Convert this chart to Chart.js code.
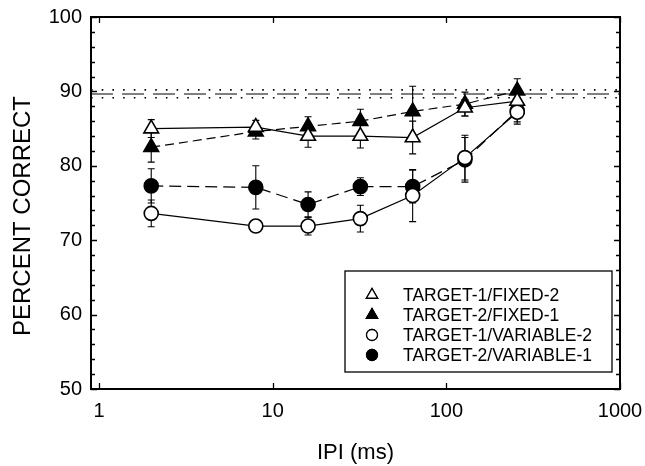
<!DOCTYPE html>
<html>
<head>
<meta charset="utf-8">
<script src="https://cdn.jsdelivr.net/npm/chart.js@4.4.1/dist/chart.umd.min.js"></script>
<style>
  html, body { margin: 0; padding: 0; background: #fff; }
  canvas { display: block; }
</style>
</head>
<body>
<canvas id="graf" width="645" height="466"></canvas>
<script>
const FONT = '"Liberation Sans", Arial, Helvetica, sans-serif';

// IPI values (ms) and tick labels
const ipi = [2, 8, 16, 32, 64, 128, 256];
const xTicks = [1, 10, 100, 1000];
const yTicks = [50, 60, 70, 80, 90, 100];

// series (percent correct) with error bars
const labels = ['TARGET-1/FIXED-2', 'TARGET-2/FIXED-1', 'TARGET-1/VARIABLE-2', 'TARGET-2/VARIABLE-1'];
const t1f2 = [85.0, 85.2, 84.0, 84.0, 83.8, 87.8, 88.7];
const t1f2Err = [1.2, 0.9, 1.5, 1.6, 2.2, 1.1, 1.0];
const t2f1 = [82.5, 84.6, 85.3, 86.0, 87.3, 88.3, 90.1];
const t2f1Err = [2.0, 1.0, 1.3, 1.6, 3.4, 1.6, 1.6];
const t1v2 = [73.6, 71.9, 71.9, 72.9, 76.0, 81.1, 87.2];
const t1v2Err = [1.8, 0.8, 1.2, 1.8, 3.5, 3.0, 1.6];
const t2v1 = [77.3, 77.1, 74.8, 77.2, 77.2, 80.8, 87.4];
const t2v1Err = [2.3, 2.9, 1.7, 1.2, 2.2, 3.0, 1.5];

// horizontal reference (mean and band)
const refMean = 89.65;
const refHigh = 90.2;
const refLow = 89.15;
const refRange = [0.9, 1000];

const pts = vals => ipi.map((x, i) => ({ x: x, y: vals[i] }));
const flat = v => refRange.map(x => ({ x: x, y: v }));

const serie = (label, vals, errs, style, filled, dash) => ({
  label: label,
  data: pts(vals),
  errors: errs,
  borderColor: '#000',
  borderWidth: 1.2,
  borderDash: dash,
  backgroundColor: filled ? '#000' : '#fff',
  pointStyle: style,
  pointRadius: style === 'triangle' ? 8.5 : 7,
  pointBorderWidth: 1.6,
  pointBorderColor: '#000',
  pointBackgroundColor: filled ? '#000' : '#fff',
  tension: 0
});

const refLine = (v, dash, w) => ({
  data: flat(v),
  borderColor: '#000',
  borderWidth: w,
  borderDash: dash,
  pointRadius: 0,
  ref: true
});

// error bars drawn under the markers
const barras = {
  id: 'barras',
  beforeDatasetsDraw(chart) {
    const ctx = chart.ctx;
    const xs = chart.scales.x, ys = chart.scales.y;
    ctx.save();
    ctx.strokeStyle = '#000';
    ctx.lineWidth = 1.1;
    chart.data.datasets.forEach(ds => {
      if (!ds.errors) return;
      ds.data.forEach((p, i) => {
        const e = ds.errors[i];
        const px = xs.getPixelForValue(p.x);
        const top = ys.getPixelForValue(p.y + e);
        const bot = ys.getPixelForValue(p.y - e);
        ctx.beginPath();
        ctx.moveTo(px, top); ctx.lineTo(px, bot);
        ctx.moveTo(px - 3.5, top); ctx.lineTo(px + 3.5, top);
        ctx.moveTo(px - 3.5, bot); ctx.lineTo(px + 3.5, bot);
        ctx.stroke();
      });
    });
    ctx.restore();
  }
};

// frame, inward ticks, legend box, y title
const marco = {
  id: 'marco',
  afterDraw(chart) {
    const ctx = chart.ctx;
    const a = chart.chartArea;
    const xs = chart.scales.x, ys = chart.scales.y;
    ctx.save();
    ctx.strokeStyle = '#000';
    ctx.lineWidth = 1.3;
    ctx.beginPath();
    for (let v = 50; v <= 100; v += 2) {
      const py = Math.round(ys.getPixelForValue(v)) + 0.5;
      const len = v % 10 === 0 ? 6 : 4;
      ctx.moveTo(a.left, py); ctx.lineTo(a.left + len, py);
      ctx.moveTo(a.right, py); ctx.lineTo(a.right - len, py);
    }
    xTicks.forEach(v => {
      const px = Math.round(xs.getPixelForValue(v)) + 0.5;
      ctx.moveTo(px, a.bottom); ctx.lineTo(px, a.bottom - 6);
      ctx.moveTo(px, a.top); ctx.lineTo(px, a.top + 6);
    });
    ctx.stroke();

    ctx.lineWidth = 2;
    ctx.strokeRect(a.left, a.top, a.right - a.left, a.bottom - a.top);

    // legend
    const bx = 345, by = 271, bw = 267, bh = 101;
    ctx.fillStyle = '#fff';
    ctx.fillRect(bx, by, bw, bh);
    ctx.lineWidth = 1.3;
    ctx.strokeRect(bx, by, bw, bh);
    ctx.font = '17.5px ' + FONT;
    ctx.textBaseline = 'middle';
    ctx.textAlign = 'left';
    chart.data.datasets.forEach((ds, i) => {
      if (ds.ref) return;
      const cy = by + 24 + i * 20;
      Chart.helpers.drawPoint(ctx, {
        pointStyle: ds.pointStyle,
        radius: ds.pointStyle === 'triangle' ? 6.5 : 5.5,
        borderWidth: 1.3,
        rotation: 0
      }, 372, cy);
      ctx.fillStyle = ds.pointBackgroundColor;
      ctx.strokeStyle = '#000';
      ctx.fill();
      ctx.stroke();
      ctx.fillStyle = '#000';
      ctx.fillText(ds.label, 403, cy + 1);
    });

    // y title
    ctx.translate(23, 216);
    ctx.rotate(-Math.PI / 2);
    ctx.textAlign = 'center';
    ctx.font = '24px ' + FONT;
    ctx.fillStyle = '#000';
    ctx.fillText('PERCENT CORRECT', 0, 0);
    ctx.restore();
  }
};

new Chart(document.getElementById('graf'), {
  type: 'line',
  data: {
    datasets: [
      serie(labels[0], t1f2, t1f2Err, 'triangle', false, []),
      serie(labels[1], t2f1, t2f1Err, 'triangle', true, [9, 5]),
      serie(labels[2], t1v2, t1v2Err, 'circle', false, []),
      serie(labels[3], t2v1, t2v1Err, 'circle', true, [12, 6]),
      refLine(refMean, [22, 9], 1),
      refLine(refHigh, [1.6, 9.1], 1.6),
      refLine(refLow, [1.6, 9.1], 1.6)
    ]
  },
  options: {
    responsive: false,
    animation: false,
    devicePixelRatio: 1,
    layout: { padding: { top: 17, right: 25, left: 0, bottom: 0 } },
    plugins: {
      legend: { display: false },
      tooltip: { enabled: false }
    },
    scales: {
      x: {
        type: 'logarithmic',
        min: 0.9,
        max: 1000,
        afterBuildTicks: s => { s.ticks = xTicks.map(v => ({ value: v })); },
        afterFit: s => { s.height = 77; s.paddingLeft = 0; s.paddingRight = 0; },
        ticks: {
          color: '#000',
          font: { family: FONT, size: 20 },
          padding: 10,
          autoSkip: false,
          maxRotation: 0,
          callback: v => String(v)
        },
        grid: { display: false, drawTicks: false },
        border: { display: false },
        title: {
          display: true,
          text: 'IPI (ms)',
          color: '#000',
          font: { family: FONT, size: 22 },
          padding: { top: 6, bottom: 0 }
        }
      },
      y: {
        min: 50,
        max: 100,
        afterBuildTicks: s => { s.ticks = yTicks.map(v => ({ value: v })); },
        afterFit: s => { s.width = 91; s.paddingTop = 0; s.paddingBottom = 0; },
        ticks: {
          color: '#000',
          font: { family: FONT, size: 20 },
          padding: 9
        },
        grid: { display: false, drawTicks: false },
        border: { display: false }
      }
    }
  },
  plugins: [barras, marco]
});
</script>
</body>
</html>
